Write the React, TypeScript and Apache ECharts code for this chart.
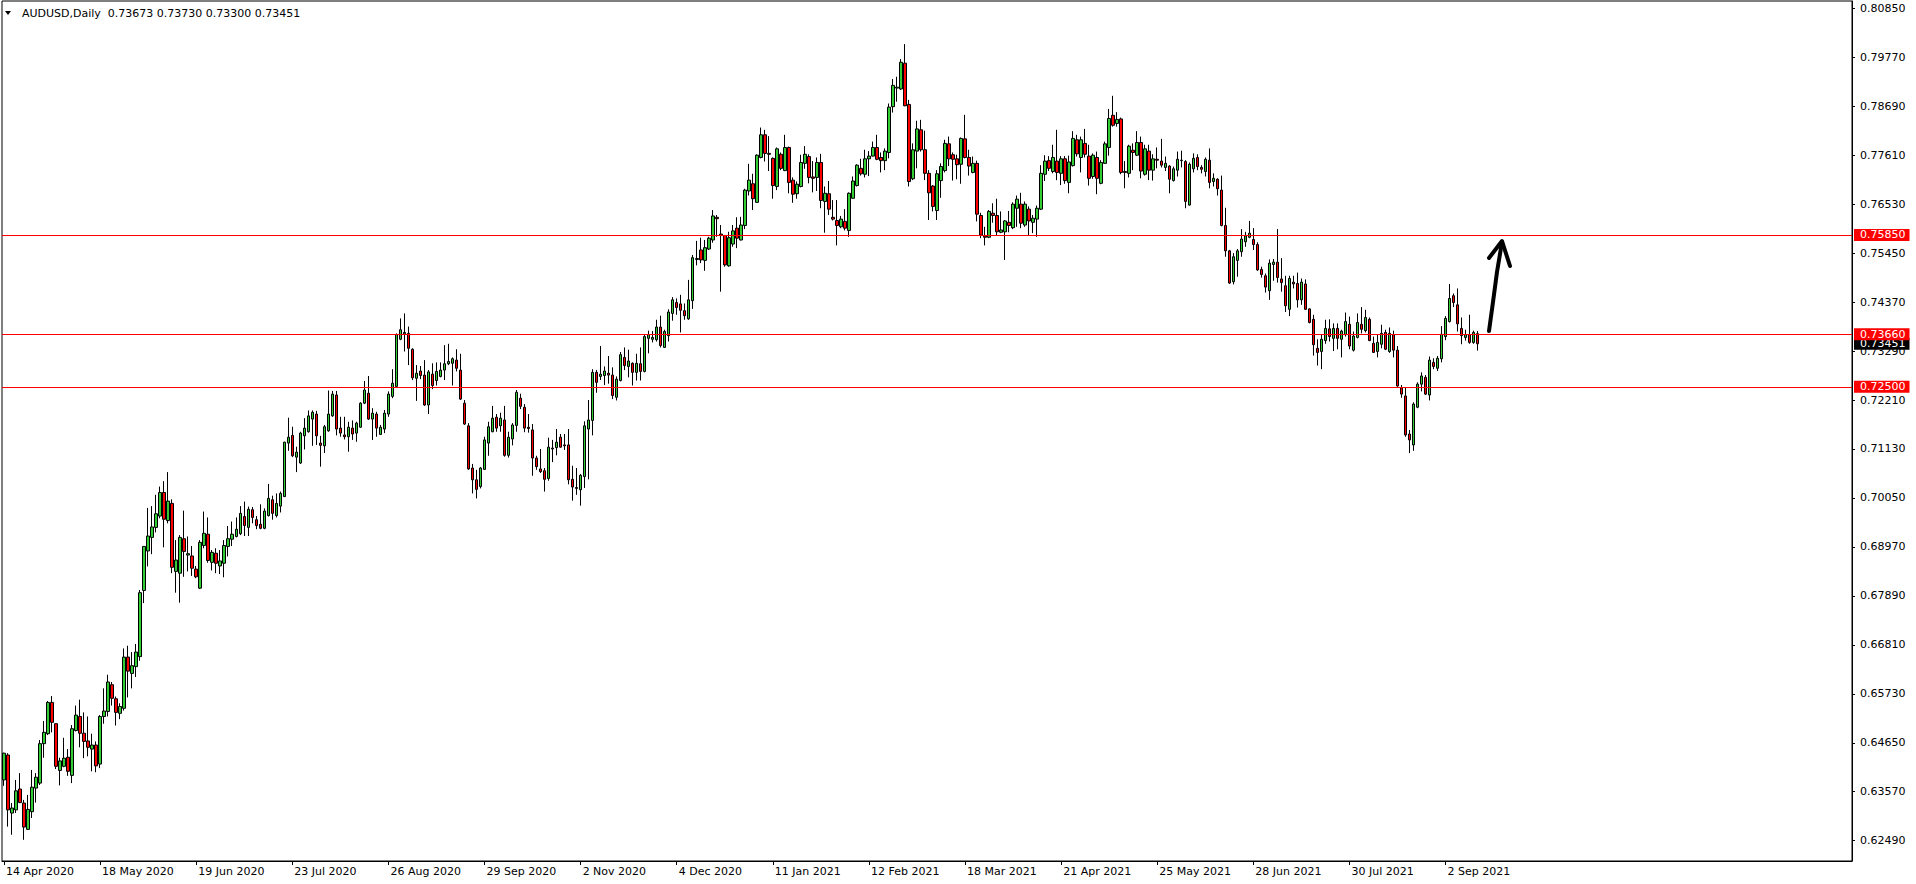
import React, { useEffect, useRef } from 'react';
import * as echarts from 'echarts';

const symbolName = 'AUDUSD';
const timeframe = 'Daily';
const firstDate = '2020-04-14';
const skippedDays = ['2020-12-25', '2021-01-01'];
const totalSlots = 462;

const tickLabels = ['14 Apr 2020', '18 May 2020', '19 Jun 2020', '23 Jul 2020', '26 Aug 2020', '29 Sep 2020', '2 Nov 2020', '4 Dec 2020', '11 Jan 2021', '12 Feb 2021', '18 Mar 2021', '21 Apr 2021', '25 May 2021', '28 Jun 2021', '30 Jul 2021', '2 Sep 2021'];

const priceTicks = [0.62490, 0.63570, 0.64650, 0.65730, 0.66810, 0.67890, 0.68970, 0.70050, 0.71130, 0.72210, 0.73290, 0.74370, 0.75450, 0.76530, 0.77610, 0.78690, 0.79770, 0.80850];

const levels = [0.75850, 0.73660, 0.72500];

const opens = [
  0.6383,0.6438,0.6310,0.6317,0.6363,0.6332,0.6274,0.6313,0.6365,0.6376,
  0.6463,0.6485,0.6554,0.6507,0.6404,0.6413,0.6433,0.6393,0.6492,0.6523,
  0.6486,0.6469,0.6451,0.6460,0.6418,0.6523,0.6534,0.6593,0.6562,0.6530,
  0.6541,0.6654,0.6618,0.6633,0.6655,0.6801,0.6888,0.6918,0.6940,0.6965,
  0.7017,0.6955,0.6993,0.6843,0.6839,0.6915,0.6879,0.6877,0.6848,0.6806,
  0.6900,0.6925,0.6863,0.6883,0.6855,0.6861,0.6898,0.6914,0.6920,0.6926,
  0.6964,0.6940,0.6979,0.6957,0.6947,0.6938,0.6966,0.7001,0.6966,0.6987,
  0.7008,0.7126,0.7143,0.7095,0.7082,0.7142,0.7151,0.7179,0.7190,0.7126,
  0.7120,0.7153,0.7186,0.7232,0.7159,0.7144,0.7140,0.7159,0.7148,0.7161,
  0.7214,0.7236,0.7179,0.7190,0.7145,0.7157,0.7190,0.7229,0.7251,0.7355,
  0.7367,0.7368,0.7333,0.7269,0.7285,0.7276,0.7210,0.7278,0.7264,0.7273,
  0.7287,0.7301,0.7302,0.7309,0.7287,0.7214,0.7164,0.7071,0.7045,0.7030,
  0.7068,0.7126,0.7151,0.7183,0.7164,0.7177,0.7099,0.7135,0.7165,0.7225,
  0.7205,0.7161,0.7155,0.7093,0.7069,0.7065,0.7048,0.7113,0.7116,0.7139,
  0.7122,0.7122,0.7046,0.7028,0.7023,0.7052,0.7157,0.7176,0.7282,0.7273,
  0.7275,0.7280,0.7276,0.7227,0.7264,0.7315,0.7295,0.7302,0.7282,0.7301,
  0.7284,0.7357,0.7355,0.7354,0.7382,0.7337,0.7363,0.7412,0.7436,0.7433,
  0.7418,0.7400,0.7440,0.7531,0.7552,0.7529,0.7554,0.7574,0.7624,0.7587,
  0.7584,0.7517,0.7565,0.7600,0.7574,0.7606,0.7682,0.7698,0.7657,0.7756,
  0.7806,0.7765,0.7754,0.7692,0.7763,0.7727,0.7778,0.7706,0.7676,0.7692,
  0.7743,0.7758,0.7713,0.7712,0.7745,0.7659,0.7676,0.7624,0.7617,0.7603,
  0.7615,0.7595,0.7666,0.7694,0.7732,0.7719,0.7753,0.7759,0.7778,0.7756,
  0.7749,0.7767,0.7868,0.7909,0.7907,0.7964,0.7873,0.7709,0.7770,0.7817,
  0.7773,0.7721,0.7693,0.7639,0.7705,0.7727,0.7786,0.7762,0.7753,0.7741,
  0.7797,0.7756,0.7723,0.7743,0.7628,0.7583,0.7580,0.7633,0.7628,0.7591,
  0.7592,0.7613,0.7601,0.7644,0.7653,0.7607,0.7642,0.7613,0.7620,0.7642,
  0.7719,0.7749,0.7725,0.7748,0.7721,0.7753,0.7701,0.7738,0.7795,0.7756,
  0.7787,0.7759,0.7714,0.7756,0.7699,0.7743,0.7778,0.7849,0.7831,0.7841,
  0.7725,0.7721,0.7772,0.7761,0.7789,0.7719,0.7770,0.7728,0.7752,0.7748,
  0.7734,0.7737,0.7705,0.7728,0.7749,0.7747,0.7651,0.7731,0.7756,0.7734,
  0.7725,0.7750,0.7703,0.7708,0.7684,0.7606,0.7550,0.7482,0.7529,0.7548,
  0.7570,0.7580,0.7575,0.7564,0.7509,0.7495,0.7462,0.7520,0.7525,0.7488,
  0.7473,0.7421,0.7481,0.7478,0.7442,0.7477,0.7422,0.7399,0.7335,0.7328,
  0.7352,0.7378,0.7357,0.7379,0.7355,0.7365,0.7388,0.7331,0.7359,0.7388,
  0.7374,0.7399,0.7346,0.7328,0.7344,0.7370,0.7328,0.7365,0.7331,0.7248,
  0.7230,0.7146,0.7122,0.7205,0.7256,0.7271,0.7232,0.7304,0.7291,0.7312,
  0.7361,0.7394,0.7451,0.7431,0.7379,0.7359,0.7365,0.7348,0.73673,
];

const highs = [
  0.6443,0.6442,0.6332,0.6383,0.6398,0.6339,0.6350,0.6405,0.6398,0.6471,
  0.6513,0.6557,0.6568,0.6508,0.6432,0.6476,0.6451,0.6504,0.6547,0.6560,
  0.6532,0.6523,0.6485,0.6468,0.6526,0.6585,0.6615,0.6599,0.6567,0.6552,
  0.6673,0.6679,0.6665,0.6683,0.6802,0.6899,0.6983,0.6987,0.7012,0.7030,
  0.7042,0.7062,0.7002,0.6912,0.6923,0.6977,0.6920,0.6899,0.6855,0.6912,
  0.6975,0.6962,0.6890,0.6894,0.6890,0.6912,0.6943,0.6953,0.6962,0.6987,
  0.6997,0.6986,0.6985,0.6965,0.6991,0.6982,0.7036,0.7010,0.7015,0.7019,
  0.7129,0.7182,0.7162,0.7118,0.7151,0.7181,0.7198,0.7198,0.7197,0.7142,
  0.7166,0.7242,0.7241,0.7241,0.7184,0.7184,0.7173,0.7176,0.7173,0.7216,
  0.7263,0.7274,0.7203,0.7195,0.7166,0.7199,0.7240,0.7289,0.7368,0.7401,
  0.7412,0.7383,0.7335,0.7298,0.7296,0.7309,0.7287,0.7302,0.7304,0.7304,
  0.7342,0.7345,0.7315,0.7333,0.7323,0.7221,0.7170,0.7080,0.7067,0.7073,
  0.7140,0.7173,0.7208,0.7190,0.7193,0.7208,0.7151,0.7170,0.7243,0.7235,
  0.7212,0.7190,0.7168,0.7098,0.7113,0.7071,0.7138,0.7133,0.7157,0.7146,
  0.7146,0.7157,0.7076,0.7071,0.7058,0.7174,0.7221,0.7289,0.7287,0.7340,
  0.7295,0.7318,0.7293,0.7273,0.7327,0.7337,0.7332,0.7304,0.7323,0.7337,
  0.7365,0.7374,0.7373,0.7398,0.7407,0.7376,0.7421,0.7448,0.7445,0.7453,
  0.7434,0.7486,0.7541,0.7572,0.7579,0.7574,0.7581,0.7640,0.7629,0.7607,
  0.7585,0.7592,0.7607,0.7624,0.7625,0.7687,0.7742,0.7720,0.7763,0.7822,
  0.7817,0.7803,0.7756,0.7778,0.7767,0.7806,0.7780,0.7712,0.7703,0.7762,
  0.7781,0.7763,0.7748,0.7756,0.7764,0.7692,0.7704,0.7662,0.7662,0.7627,
  0.7642,0.7679,0.7714,0.7741,0.7753,0.7773,0.7770,0.7791,0.7806,0.7767,
  0.7776,0.7875,0.7929,0.7934,0.7973,0.8006,0.7883,0.7787,0.7837,0.7839,
  0.7815,0.7728,0.7695,0.7728,0.7743,0.7795,0.7802,0.7767,0.7762,0.7800,
  0.7850,0.7773,0.7758,0.7749,0.7634,0.7603,0.7640,0.7655,0.7665,0.7637,
  0.7618,0.7638,0.7657,0.7672,0.7678,0.7659,0.7648,0.7629,0.7650,0.7739,
  0.7761,0.7759,0.7784,0.7817,0.7759,0.7759,0.7760,0.7814,0.7806,0.7802,
  0.7819,0.7784,0.7765,0.7769,0.7750,0.7791,0.7863,0.7892,0.7856,0.7844,
  0.7748,0.7784,0.7787,0.7814,0.7802,0.7784,0.7784,0.7763,0.7778,0.7797,
  0.7758,0.7739,0.7736,0.7769,0.7771,0.7750,0.7745,0.7765,0.7763,0.7739,
  0.7756,0.7776,0.7721,0.7710,0.7716,0.7645,0.7552,0.7545,0.7554,0.7598,
  0.7592,0.7616,0.7600,0.7569,0.7515,0.7500,0.7531,0.7532,0.7598,0.7534,
  0.7495,0.7495,0.7495,0.7502,0.7489,0.7487,0.7423,0.7409,0.7355,0.7366,
  0.7398,0.7399,0.7390,0.7390,0.7376,0.7414,0.7405,0.7372,0.7412,0.7426,
  0.7420,0.7403,0.7361,0.7365,0.7387,0.7376,0.7381,0.7374,0.7340,0.7254,
  0.7249,0.7155,0.7216,0.7260,0.7282,0.7276,0.7317,0.7313,0.7318,0.7384,
  0.7406,0.7477,0.7456,0.7467,0.7403,0.7376,0.7409,0.7374,0.73730,
];

const lows = [
  0.6370,0.6280,0.6262,0.6310,0.6332,0.6251,0.6273,0.6299,0.6333,0.6372,
  0.6432,0.6482,0.6488,0.6407,0.6371,0.6411,0.6392,0.6376,0.6490,0.6455,
  0.6431,0.6435,0.6402,0.6400,0.6409,0.6507,0.6523,0.6547,0.6503,0.6517,
  0.6536,0.6565,0.6585,0.6610,0.6646,0.6773,0.6854,0.6881,0.6929,0.6960,
  0.6896,0.6949,0.6839,0.6796,0.6774,0.6831,0.6843,0.6833,0.6828,0.6804,
  0.6894,0.6862,0.6845,0.6839,0.6837,0.6830,0.6876,0.6899,0.6918,0.6923,
  0.6921,0.6921,0.6949,0.6936,0.6936,0.6936,0.6964,0.6957,0.6962,0.6973,
  0.7007,0.7109,0.7095,0.7062,0.7080,0.7112,0.7149,0.7120,0.7122,0.7074,
  0.7104,0.7151,0.7184,0.7143,0.7140,0.7134,0.7107,0.7133,0.7129,0.7160,
  0.7212,0.7177,0.7133,0.7140,0.7144,0.7148,0.7184,0.7225,0.7249,0.7353,
  0.7328,0.7298,0.7265,0.7219,0.7267,0.7208,0.7190,0.7245,0.7253,0.7271,
  0.7265,0.7298,0.7253,0.7284,0.7221,0.7166,0.7067,0.7015,0.7004,0.7026,
  0.7067,0.7098,0.7150,0.7151,0.7151,0.7096,0.7094,0.7121,0.7151,0.7201,
  0.7150,0.7149,0.7054,0.7067,0.7060,0.7019,0.7043,0.7084,0.7099,0.7116,
  0.7111,0.7035,0.6999,0.7012,0.6988,0.7027,0.7046,0.7143,0.7237,0.7265,
  0.7254,0.7257,0.7223,0.7220,0.7262,0.7287,0.7271,0.7253,0.7264,0.7264,
  0.7282,0.7324,0.7348,0.7350,0.7337,0.7336,0.7350,0.7396,0.7409,0.7370,
  0.7398,0.7398,0.7422,0.7518,0.7523,0.7506,0.7552,0.7568,0.7581,0.7460,
  0.7515,0.7515,0.7559,0.7556,0.7573,0.7598,0.7672,0.7640,0.7656,0.7754,
  0.7747,0.7726,0.7665,0.7684,0.7728,0.7726,0.7677,0.7656,0.7665,0.7690,
  0.7731,0.7699,0.7679,0.7682,0.7644,0.7590,0.7629,0.7617,0.7562,0.7600,
  0.7595,0.7581,0.7665,0.7692,0.7716,0.7712,0.7715,0.7758,0.7750,0.7723,
  0.7728,0.7754,0.7855,0.7879,0.7905,0.7869,0.7692,0.7706,0.7732,0.7769,
  0.7706,0.7618,0.7637,0.7618,0.7667,0.7723,0.7737,0.7705,0.7708,0.7698,
  0.7754,0.7716,0.7721,0.7615,0.7578,0.7562,0.7578,0.7612,0.7584,0.7589,
  0.7530,0.7591,0.7598,0.7603,0.7600,0.7603,0.7585,0.7589,0.7581,0.7640,
  0.7704,0.7726,0.7721,0.7706,0.7695,0.7698,0.7677,0.7736,0.7758,0.7723,
  0.7756,0.7694,0.7709,0.7675,0.7697,0.7742,0.7760,0.7824,0.7824,0.7719,
  0.7688,0.7712,0.7728,0.7759,0.7710,0.7716,0.7706,0.7705,0.7732,0.7734,
  0.7726,0.7677,0.7703,0.7714,0.7734,0.7644,0.7650,0.7723,0.7728,0.7721,
  0.7714,0.7688,0.7692,0.7672,0.7604,0.7537,0.7477,0.7476,0.7493,0.7537,
  0.7559,0.7578,0.7552,0.7506,0.7491,0.7458,0.7442,0.7484,0.7480,0.7460,
  0.7415,0.7406,0.7467,0.7425,0.7431,0.7420,0.7390,0.7319,0.7297,0.7289,
  0.7345,0.7350,0.7329,0.7333,0.7315,0.7361,0.7333,0.7328,0.7357,0.7368,
  0.7370,0.7351,0.7325,0.7315,0.7335,0.7331,0.7325,0.7315,0.7250,0.7226,
  0.7140,0.7104,0.7109,0.7203,0.7240,0.7232,0.7220,0.7289,0.7285,0.7304,
  0.7353,0.7392,0.7426,0.7372,0.7344,0.7352,0.7345,0.7345,0.73300,
];

const closes = [
  0.6442,0.6317,0.6321,0.6359,0.6333,0.6279,0.6318,0.6367,0.6389,0.6463,
  0.6488,0.6554,0.6510,0.6413,0.6425,0.6431,0.6402,0.6496,0.6526,0.6486,
  0.6468,0.6455,0.6460,0.6414,0.6523,0.6535,0.6599,0.6563,0.6532,0.6545,
  0.6654,0.6623,0.6635,0.6665,0.6796,0.6898,0.6921,0.6941,0.6970,0.7017,
  0.6958,0.6998,0.6852,0.6868,0.6918,0.6887,0.6882,0.6850,0.6831,0.6907,
  0.6927,0.6867,0.6885,0.6861,0.6866,0.6900,0.6915,0.6925,0.6936,0.6971,
  0.6944,0.6980,0.6962,0.6944,0.6938,0.6976,0.7004,0.6971,0.6993,0.7015,
  0.7128,0.7139,0.7098,0.7106,0.7148,0.7159,0.7186,0.7194,0.7142,0.7121,
  0.7162,0.7190,0.7234,0.7157,0.7148,0.7140,0.7161,0.7146,0.7170,0.7214,
  0.7243,0.7179,0.7192,0.7159,0.7161,0.7192,0.7234,0.7258,0.7365,0.7376,
  0.7370,0.7335,0.7270,0.7280,0.7275,0.7210,0.7283,0.7253,0.7284,0.7287,
  0.7301,0.7306,0.7312,0.7291,0.7223,0.7168,0.7069,0.7045,0.7024,0.7071,
  0.7133,0.7162,0.7181,0.7159,0.7181,0.7099,0.7139,0.7166,0.7238,0.7207,
  0.7159,0.7158,0.7093,0.7074,0.7063,0.7046,0.7117,0.7115,0.7128,0.7117,
  0.7120,0.7045,0.7029,0.7026,0.7055,0.7164,0.7177,0.7282,0.7260,0.7278,
  0.7285,0.7276,0.7231,0.7267,0.7321,0.7297,0.7307,0.7282,0.7302,0.7284,
  0.7361,0.7365,0.7359,0.7382,0.7341,0.7372,0.7415,0.7442,0.7425,0.7419,
  0.7407,0.7442,0.7535,0.7533,0.7530,0.7557,0.7578,0.7627,0.7621,0.7584,
  0.7519,0.7579,0.7594,0.7578,0.7607,0.7684,0.7706,0.7665,0.7761,0.7806,
  0.7765,0.7763,0.7694,0.7775,0.7732,0.7778,0.7701,0.7675,0.7697,0.7745,
  0.7763,0.7712,0.7710,0.7745,0.7661,0.7677,0.7642,0.7620,0.7606,0.7620,
  0.7600,0.7677,0.7704,0.7739,0.7720,0.7753,0.7759,0.7778,0.7752,0.7749,
  0.7770,0.7867,0.7915,0.7911,0.7966,0.7870,0.7703,0.7773,0.7819,0.7773,
  0.7721,0.7678,0.7648,0.7720,0.7736,0.7787,0.7753,0.7752,0.7740,0.7798,
  0.7756,0.7737,0.7743,0.7631,0.7585,0.7580,0.7637,0.7628,0.7592,0.7596,
  0.7616,0.7606,0.7653,0.7664,0.7611,0.7653,0.7616,0.7622,0.7644,0.7721,
  0.7748,0.7732,0.7756,0.7723,0.7753,0.7705,0.7746,0.7798,0.7764,0.7795,
  0.7763,0.7710,0.7761,0.7710,0.7745,0.7786,0.7842,0.7827,0.7840,0.7723,
  0.7723,0.7781,0.7767,0.7789,0.7726,0.7775,0.7728,0.7753,0.7750,0.7739,
  0.7743,0.7708,0.7731,0.7752,0.7750,0.7659,0.7741,0.7754,0.7736,0.7730,
  0.7752,0.7701,0.7710,0.7687,0.7606,0.7550,0.7479,0.7537,0.7550,0.7576,
  0.7583,0.7589,0.7564,0.7508,0.7498,0.7470,0.7523,0.7525,0.7491,0.7480,
  0.7429,0.7489,0.7477,0.7442,0.7481,0.7421,0.7392,0.7343,0.7326,0.7355,
  0.7379,0.7361,0.7379,0.7357,0.7373,0.7394,0.7340,0.7362,0.7392,0.7377,
  0.7403,0.7352,0.7326,0.7348,0.7368,0.7333,0.7368,0.7331,0.7252,0.7234,
  0.7144,0.7133,0.7212,0.7256,0.7274,0.7234,0.7309,0.7295,0.7313,0.7366,
  0.7401,0.7445,0.7436,0.7389,0.7363,0.7365,0.7348,0.7370,0.73451,
];

const MONTHS = ['Jan', 'Feb', 'Mar', 'Apr', 'May', 'Jun', 'Jul', 'Aug', 'Sep', 'Oct', 'Nov', 'Dec'];
const FONT = '"DejaVu Sans", Tahoma, sans-serif';

function buildDates(count: number): string[] {
  const out: string[] = [];
  const d = new Date(firstDate + 'T00:00:00Z');
  while (out.length < count) {
    const wd = d.getUTCDay();
    const iso = d.toISOString().slice(0, 10);
    if (wd !== 0 && wd !== 6 && !skippedDays.includes(iso)) {
      out.push(`${d.getUTCDate()} ${MONTHS[d.getUTCMonth()]} ${d.getUTCFullYear()}`);
    }
    d.setUTCDate(d.getUTCDate() + 1);
  }
  return out;
}

const fmt = (v: number) => Number(v).toFixed(5);

function buildOption() {
  const dates = buildDates(totalSlots);
  const tickSet = new Set(tickLabels);
  const candles = opens.map((o, i) => [o, closes[i], lows[i], highs[i]]);
  const last = opens.length - 1;
  const header = `${symbolName},${timeframe}\u00a0\u00a0${fmt(opens[last])} ${fmt(highs[last])} ${fmt(lows[last])} ${fmt(closes[last])}`;
  const showAt = (_i: number, v: string) => tickSet.has(v);

  const labelBase = {
    show: true,
    position: 'end',
    distance: 2,
    color: '#ffffff',
    fontSize: 11,
    fontFamily: FONT,
    padding: [1, 4, 0, 6],
    formatter: (p: any) => fmt(p.value),
  };

  return {
    animation: false,
    backgroundColor: '#ffffff',
    grid: { left: 2, right: 64, top: 1, bottom: 23, show: true, borderColor: '#000', borderWidth: 1, backgroundColor: 'transparent' },
    graphic: [
      { type: 'polygon', shape: { points: [[5, 11], [11, 11], [8, 15]] }, style: { fill: '#000' } },
      { type: 'text', x: 22, y: 13.5, style: { text: header, fill: '#000', font: `11px ${FONT}`, verticalAlign: 'middle', textAlign: 'left' } },
      { type: 'polyline', shape: { points: [[1489, 331], [1493, 302], [1497, 272], [1502, 242]] }, style: { stroke: '#000', lineWidth: 4, lineCap: 'round', lineJoin: 'round', fill: 'none' }, z: 100 },
      { type: 'polyline', shape: { points: [[1489, 258], [1502, 241], [1510, 266]] }, style: { stroke: '#000', lineWidth: 4, lineCap: 'round', lineJoin: 'round', fill: 'none' }, z: 100 },
    ],
    xAxis: {
      type: 'category',
      data: dates,
      boundaryGap: true,
      axisLine: { show: true, onZero: false, lineStyle: { color: '#000', width: 1 } },
      axisTick: { show: true, alignWithLabel: true, interval: showAt, length: 4, lineStyle: { color: '#000' } },
      axisLabel: {
        interval: showAt,
        align: 'left',
        margin: 5,
        color: '#000',
        fontSize: 11,
        fontFamily: FONT,
        hideOverlap: false,
        padding: [0, 0, 0, 2],
      },
      splitLine: { show: false },
    },
    yAxis: {
      type: 'value',
      position: 'right',
      min: 0.62042,
      max: 0.81011,
      scale: true,
      axisLine: { show: true, lineStyle: { color: '#000', width: 1 } },
      axisTick: { show: true, length: 3, customValues: priceTicks, lineStyle: { color: '#000' } },
      axisLabel: { customValues: priceTicks, formatter: (v: number) => fmt(v), margin: 8, color: '#000', fontSize: 11, fontFamily: FONT },
      splitLine: { show: false },
    },
    series: [
      {
        type: 'candlestick',
        data: candles,
        barWidth: 3,
        itemStyle: { color: '#32CD32', color0: '#FF0000', borderColor: '#000', borderColor0: '#000', borderWidth: 1 },
        markLine: {
          silent: true,
          precision: 5,
          symbol: ['none', 'none'],
          animation: false,
          data: [
            {
              yAxis: closes[last],
              lineStyle: { color: 'rgba(0,0,0,0)', width: 1, opacity: 1 },
              label: { ...labelBase, backgroundColor: '#000000' },
            },
            ...levels.map((v) => ({
              yAxis: v,
              lineStyle: { color: '#FF0000', width: 1, type: 'solid', opacity: 1 },
              label: { ...labelBase, backgroundColor: '#FF0000' },
            })),
          ],
        },
      },
    ],
  };
}

export default function App() {
  const ref = useRef<HTMLDivElement>(null);
  useEffect(() => {
    if (!ref.current) return;
    const chart = echarts.init(ref.current, null, { renderer: 'svg' });
    chart.setOption(buildOption() as any);
    return () => chart.dispose();
  }, []);
  return (
    <div
      ref={ref}
      style={{ position: 'fixed', left: 0, top: 0, width: 1916, height: 884, background: '#ffffff' }}
    />
  );
}
